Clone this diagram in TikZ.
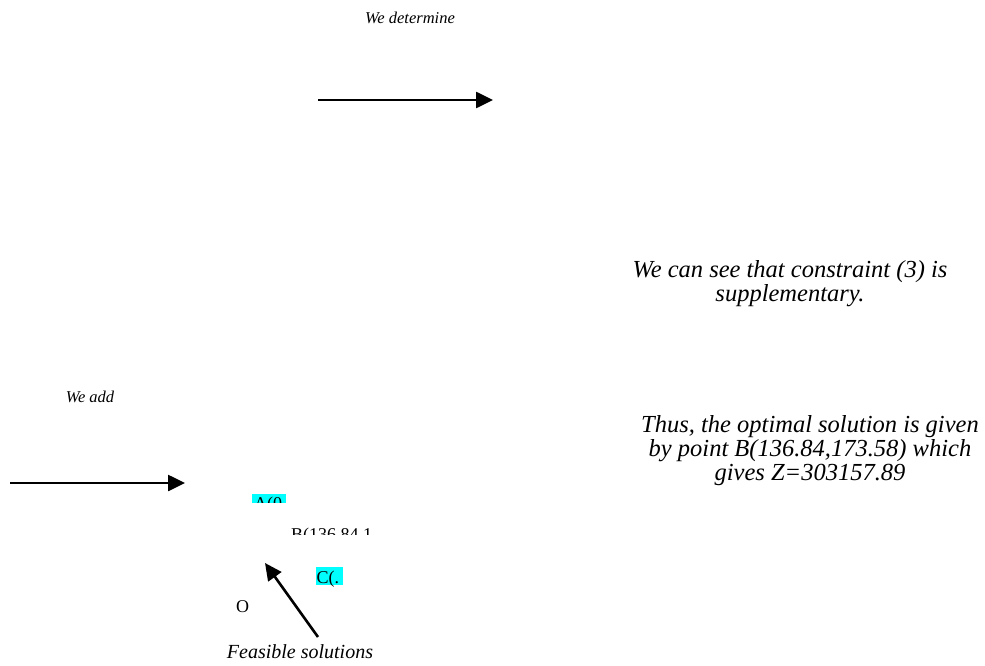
\documentclass[tikz,border=0pt]{standalone}
\usepackage{fontspec}
\setmainfont{Liberation Serif}
\usetikzlibrary{arrows.meta}
\definecolor{hilite}{HTML}{00FFFF}

\begin{document}
\begin{tikzpicture}[x=1pt,y=-1pt,
  flow/.style={line width=2.6pt,-{Triangle[length=17pt,width=16pt]}},
  note/.style={font=\fontsize{16.5}{19}\selectfont\itshape, inner sep=0pt, anchor=base},
  remark/.style={font=\fontsize{24.5}{24}\selectfont\itshape, align=center, inner sep=0pt, anchor=north},
  caption/.style={font=\fontsize{20}{24}\selectfont\itshape, inner sep=0pt, anchor=base},
  ptlabel/.style={font=\fontsize{18}{20}\selectfont, inner sep=0pt, anchor=base west},
]
\useasboundingbox (0,0) rectangle (985,666);

% first step
\node[note] (det) at (410,24) {We determine};
\coordinate (d1) at (318,100);
\coordinate (d2) at (493,100);
\draw[flow] (d1) -- (d2);

% remarks on the right
\node[remark] (supp) at (790,260) {We can see that constraint (3) is\\supplementary.};
\node[remark] (opt) at (810,415) {Thus, the optimal solution is given\\by point B(136.84,173.58) which\\gives Z=303157.89};

% second step
\node[note] (add) at (90,402) {We add};
\coordinate (a1) at (10,483);
\coordinate (a2) at (185,483);
\draw[flow] (a1) -- (a2);

% corner points of the region, partly hidden
\begin{scope}
  \clip (252,494) rectangle (286,502.5);
  \fill[hilite] (252,494) rectangle (286,502.5);
  \node[ptlabel] (A) at (254,509) {A(0};
\end{scope}
\begin{scope}
  \clip (285,526) rectangle (380,534.5);
  \node[ptlabel] (B) at (291,540.5) {B(136.84,1};
\end{scope}
\fill[hilite] (316,566.5) rectangle (342.5,585);
\node[ptlabel] (C) at (316.5,583) {C(.};
\node[ptlabel] (O) at (236,612.5) {O};

% feasible region pointer
\node[caption] (feas) at (300,658) {Feasible solutions};
\coordinate (f1) at (318,637);
\coordinate (f2) at (265,563);
\draw[flow] (f1) -- (f2);
\end{tikzpicture}
\end{document}
